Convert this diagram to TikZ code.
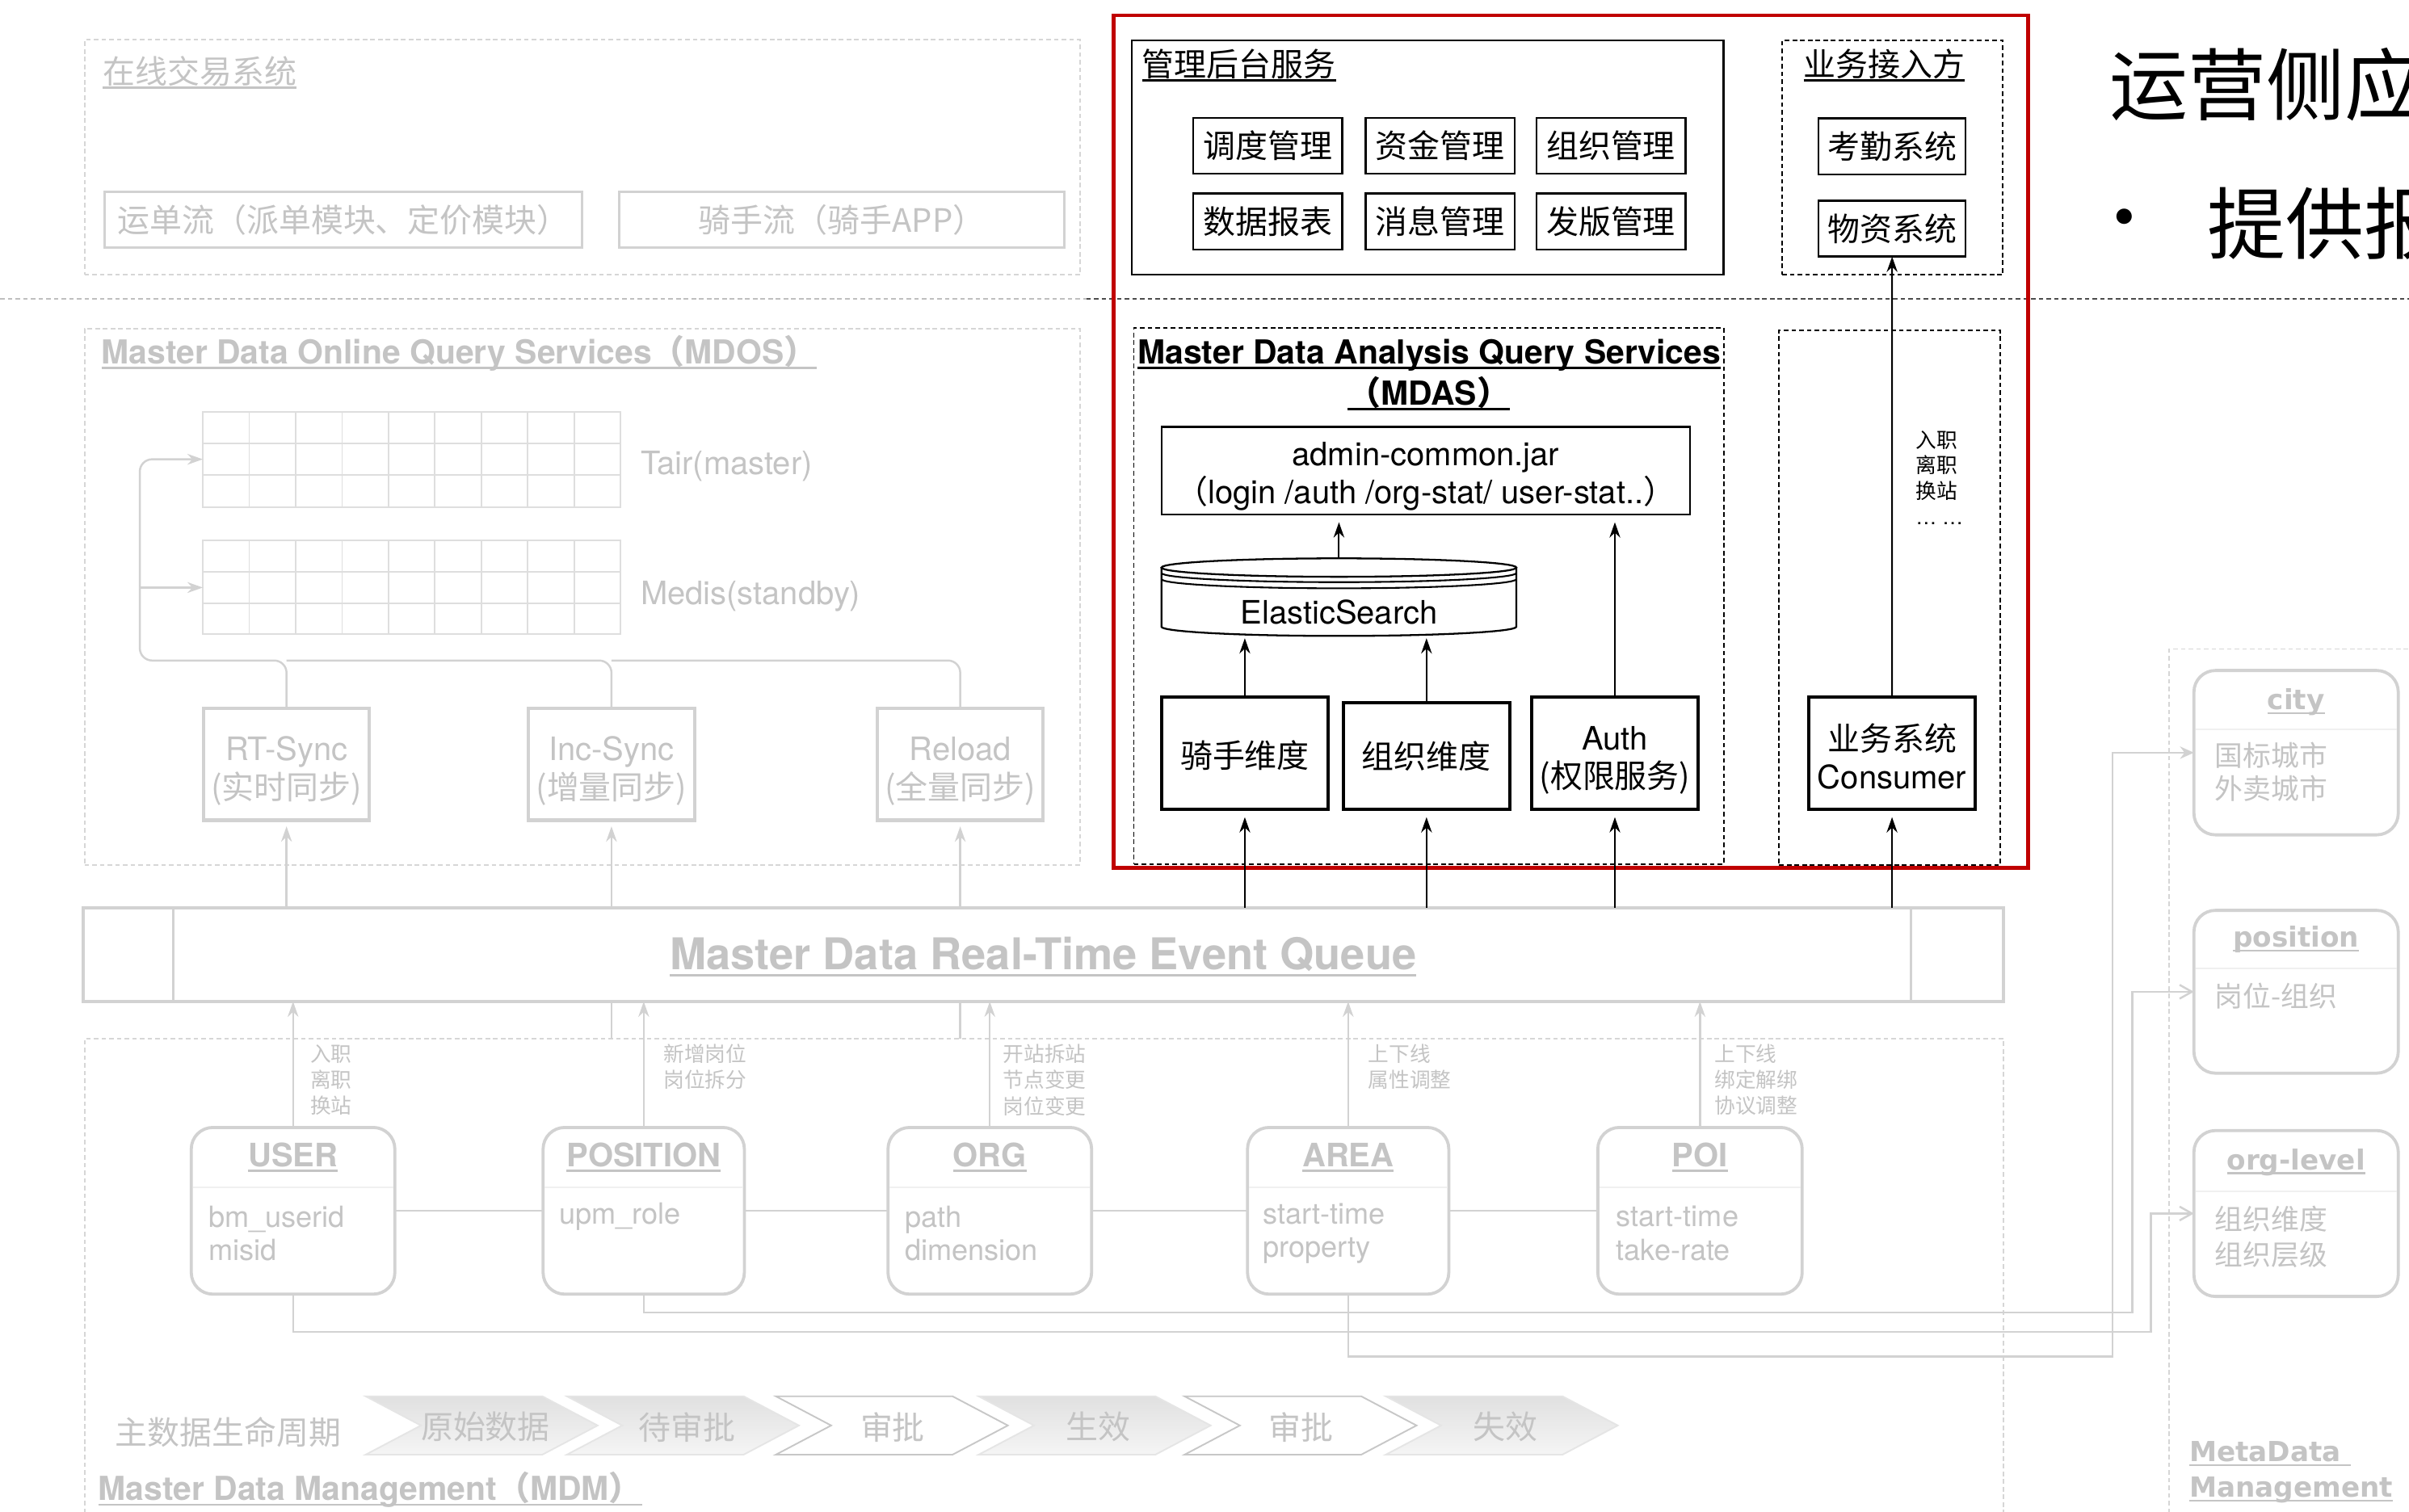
\documentclass[tikz,border=0pt]{standalone}
\usepackage{fontspec}
\setmainfont{TeX Gyre Heros}
\newfontfamily\cjk{Noto Sans CJK SC}
\newfontfamily\dvs{DejaVu Sans}
\usetikzlibrary{arrows.meta,calc}
\definecolor{fl}{HTML}{D2D2D2}
\definecolor{fd}{HTML}{D6D6D6}
\definecolor{ft}{HTML}{C4C4C4}
\definecolor{fgrid}{HTML}{DEDEDE}
\definecolor{redbox}{HTML}{C00000}
\newbox\ulb
\newcommand\ulx[1]{\setbox\ulb\hbox{#1}\rlap{\rule[-0.16em]{\wd\ulb}{0.065em}}\box\ulb}
\newcommand\fsz[2]{\fontsize{#1}{#2}\selectfont}
\begin{document}
\begin{tikzpicture}[x=1pt,y=-1pt,
  every node/.style={inner sep=0pt,outer sep=0pt},
  fbox/.style={draw=fl,line width=1.6pt},
  fdash/.style={draw=fd,line width=1pt,dash pattern=on 3pt off 2pt},
  bdash/.style={draw=black,line width=1pt,dash pattern=on 3pt off 2pt},
  fline/.style={draw=fl,line width=1.3pt},
  farrow/.style={draw=fl,line width=1.3pt,-{Stealth[length=10pt,width=7pt]}},
  barrow/.style={draw=black,line width=1pt,-{Stealth[length=10pt,width=7pt]}},
  syncbox/.style={draw=fl,line width=2.2pt,minimum width=108,minimum height=73},
  synctext/.style={align=center,text=ft,font=\fsz{21}{25.4}},
  entity/.style={draw=fl,line width=2pt,rounded corners=14pt,minimum height=108.5},
  meta/.style={draw=fl,line width=2pt,rounded corners=14pt,minimum width=133},
  btn/.style={draw=black,line width=1.3pt,minimum width=97,minimum height=36.5,font=\cjk\fsz{21}{25}},
  thickbox/.style={draw=black,line width=2.2pt,minimum width=108.5,minimum height=73.3},
  boxtext/.style={align=center,font=\fsz{21}{25}},
  smalllbl/.style={anchor=west,text=ft,align=left,font=\cjk\fsz{13.5}{17}}
]
\useasboundingbox (0,0) rectangle (1568,984);
\fill[white] (0,0) rectangle (1568,984);

% ---------- online trade system ----------
\node[fdash,minimum width=648,minimum height=153] (trade) at (379,102.5) {};
\node[anchor=west,text=ft] (tradeT) at (67,47) {\cjk\fsz{21}{25}\ulx{在线交易系统}};
\node[fbox,minimum width=311,minimum height=36,text=ft] (yd) at (223.5,143) {\cjk\fsz{21}{25}运单流（派单模块、定价模块）};
\node[fbox,minimum width=290,minimum height=36,text=ft] (qs) at (548,143) {\cjk\fsz{21}{25}骑手流（骑手APP）};

% ---------- separator ----------
\draw[draw=black!25,line width=1pt,dash pattern=on 3pt off 2pt] (0,194.5) -- (707,194.5);
\draw[draw=black!70,line width=1pt,dash pattern=on 3pt off 2pt] (707,194.5) -- (1568,194.5);

% ---------- MDOS ----------
\node[fdash,minimum width=648,minimum height=349] (mdos) at (379,388.5) {};
\node[anchor=west,text=ft] (mdosT) at (66,230) {\fsz{21.5}{25}\bfseries\ulx{Master Data Online Query Services{\cjk （}MDOS{\cjk ）}}};
\node[draw=fgrid,line width=1pt,minimum width=272,minimum height=62] (tair) at (268,299) {};
\foreach \i in {1,...,8} \draw[fgrid,line width=1pt] (132+\i*30.22,268) -- (132+\i*30.22,330);
\foreach \j in {1,2} \draw[fgrid,line width=1pt] (132,268+\j*20.67) -- (404,268+\j*20.67);
\node[draw=fgrid,line width=1pt,minimum width=272,minimum height=61] (medis) at (268,382.5) {};
\foreach \i in {1,...,8} \draw[fgrid,line width=1pt] (132+\i*30.22,352) -- (132+\i*30.22,413);
\foreach \j in {1,2} \draw[fgrid,line width=1pt] (132,352+\j*20.33) -- (404,352+\j*20.33);
\node[anchor=west,text=ft] (tairL) at (417,303.5) {\fsz{21}{25}Tair(master)};
\node[anchor=west,text=ft] (medisL) at (417,388) {\fsz{21}{25}Medis(standby)};

\node[syncbox] (rt) at (186.5,497.5) {};
\node[syncbox] (inc) at (398,497.5) {};
\node[syncbox] (rl) at (625,497.5) {};
\node[synctext] (rtT) at (186.5,502) {RT-Sync\\{\cjk (实时同步)}};
\node[synctext] (incT) at (398,502) {Inc-Sync\\{\cjk (增量同步)}};
\node[synctext] (rlT) at (625,502) {Reload\\{\cjk (全量同步)}};

\coordinate (hl) at (91,430);
\coordinate (mb) at (91,382.5);
\draw[farrow,rounded corners=8pt] (rt.north) |- (hl) |- (tair.west);
\draw[farrow] (mb) -- (medis.west);
\draw[fline,rounded corners=8pt] (inc.north) |- (rt.north |- hl);
\draw[fline,rounded corners=8pt] (rl.north) |- (inc.north |- hl);

% ---------- queue ----------
\node[draw=fl,line width=2pt,minimum width=1250,minimum height=61] (queue) at (679,621.5) {};
\draw[fl,line width=1.5pt] ($(queue.north west)+(59,0)$) -- ($(queue.south west)+(59,0)$);
\draw[fl,line width=1.5pt] ($(queue.north east)+(-60,0)$) -- ($(queue.south east)+(-60,0)$);
\node[text=ft] (queueT) at (679,623) {\fsz{28.5}{32}\bfseries\ulx{Master Data Real-Time Event Queue}};

\draw[farrow,shorten >=4pt] (rt.south |- queue.north) -- (rt.south);
\draw[farrow,shorten >=4pt] (inc.south |- queue.north) -- (inc.south);
\draw[farrow,shorten >=4pt] (rl.south |- queue.north) -- (rl.south);

% ---------- MDM ----------
\draw[fdash] (55,1000) -- (55,676) -- (1304,676) -- (1304,1000);
\node[anchor=west,text=ft] (mdmT) at (64,970) {\fsz{21.5}{25}\bfseries\ulx{Master Data Management{\cjk （}MDM{\cjk ）}}};
\draw[fline] (inc.south |- queue.south) -- ++(0,24);
\draw[fline] (rl.south |- queue.south) -- ++(0,24);

\node[entity,minimum width=132.5] (user) at (190.75,788.25) {};
\node[entity,minimum width=131] (pos) at (419,788.25) {};
\node[entity,minimum width=132.5] (org) at (644.25,788.25) {};
\node[entity,minimum width=131] (area) at (877.5,788.25) {};
\node[entity,minimum width=133] (poi) at (1106.5,788.25) {};
\foreach \n in {user,pos,org,area,poi}
  \draw[draw=black!6,line width=1pt] ($(\n.north west)+(1,39)$) -- ($(\n.north east)+(-1,39)$);
\node[text=ft] (userT) at (190.75,753.5) {\fsz{21}{25}\bfseries\ulx{USER}};
\node[text=ft] (posT) at (419,753.5) {\fsz{21}{25}\bfseries\ulx{POSITION}};
\node[text=ft] (orgT) at (644.25,753.5) {\fsz{21}{25}\bfseries\ulx{ORG}};
\node[text=ft] (areaT) at (877.5,753.5) {\fsz{21}{25}\bfseries\ulx{AREA}};
\node[text=ft] (poiT) at (1106.5,753.5) {\fsz{21}{25}\bfseries\ulx{POI}};
\node[anchor=west,text=ft,align=left,font=\fsz{19}{22}] (userA) at (135.7,803) {bm\_userid\\misid};
\node[anchor=west,text=ft,font=\fsz{19}{22}] (posA) at (364,792) {upm\_role};
\node[anchor=west,text=ft,align=left,font=\fsz{19}{22}] (orgA) at (589,803) {path\\dimension};
\node[anchor=west,text=ft,align=left,font=\fsz{19}{22}] (areaA) at (822,803) {start-time\\property};
\node[anchor=west,text=ft,align=left,font=\fsz{19}{22}] (poiA) at (1052,803) {start-time\\take-rate};

\draw[fline] (user.east) -- (pos.west);
\draw[fline] (pos.east) -- (org.west);
\draw[fline] (org.east) -- (area.west);
\draw[fline] (area.east) -- (poi.west);

\draw[farrow] (user.north) -- (user.north |- queue.south);
\draw[farrow] (pos.north) -- (pos.north |- queue.south);
\draw[farrow] (org.north) -- (org.north |- queue.south);
\draw[farrow] (area.north) -- (area.north |- queue.south);
\draw[farrow] (poi.north) -- (poi.north |- queue.south);

\node[smalllbl] (userL) at (202,703) {入职\\离职\\换站};
\node[smalllbl] (posL) at (432,694.5) {新增岗位\\岗位拆分};
\node[smalllbl] (orgL) at (653,703) {开站拆站\\节点变更\\岗位变更};
\node[smalllbl] (areaL) at (890.6,694.5) {上下线\\属性调整};
\node[smalllbl] (poiL) at (1116,703) {上下线\\绑定解绑\\协议调整};

% lifecycle chevrons
\node[anchor=west,text=ft] (lifeT) at (75,932.5) {\cjk\fsz{21}{25}主数据生命周期};
\foreach \x/\t in {238/原始数据,369/待审批,637/生效,902/失效}{
  \shadedraw[top color=black!12,bottom color=black!4,draw=black!10,line width=1pt]
    (\x,909) -- (\x+115,909) -- (\x+151,928) -- (\x+115,947) -- (\x,947) -- (\x+36,928) -- cycle;
  \node[text=ft] (chev\x) at (\x+78,929) {\cjk\fsz{21}{25}\t};
}
\foreach \x/\t in {505/审批,771/审批}{
  \draw[draw=black!22,line width=1pt,fill=white]
    (\x,909) -- (\x+115,909) -- (\x+151,928) -- (\x+115,947) -- (\x,947) -- (\x+36,928) -- cycle;
  \node[text=ft] (chev\x) at (\x+76,929) {\cjk\fsz{21}{25}\t};
}

% ---------- MetaData management ----------
\draw[fdash] (1412,1000) -- (1412,422.5) -- (1600,422.5);
\node[meta,minimum height=107] (city) at (1494.5,490) {};
\node[meta,minimum height=106] (posm) at (1494.5,645.65) {};
\node[meta,minimum height=108] (orgl) at (1494.5,790) {};
\draw[draw=black!6,line width=1pt] ($(city.north west)+(1,38.5)$) -- ($(city.north east)+(-1,38.5)$);
\draw[draw=black!6,line width=1pt] ($(posm.north west)+(1,38)$) -- ($(posm.north east)+(-1,38)$);
\draw[draw=black!6,line width=1pt] ($(orgl.north west)+(1,39.6)$) -- ($(orgl.north east)+(-1,39.6)$);
\node[text=ft] (cityT) at (1494.5,457) {\dvs\bfseries\fsz{18}{22}\ulx{city}};
\node[text=ft] (posmT) at (1494.5,611.5) {\dvs\bfseries\fsz{18}{22}\ulx{position}};
\node[text=ft] (orglT) at (1494.5,756.5) {\dvs\bfseries\fsz{18}{22}\ulx{org-level}};
\node[anchor=west,text=ft,align=left,font=\cjk\fsz{18.3}{22}] (cityA) at (1441.6,502.5) {国标城市\\外卖城市};
\node[anchor=west,text=ft,font=\cjk\fsz{18.3}{22}] (posmA) at (1441.6,648.4) {岗位-组织};
\node[anchor=west,text=ft,align=left,font=\cjk\fsz{18.3}{23.5}] (orglA) at (1441.6,805.25) {组织维度\\组织层级};
\node[anchor=west,text=ft,align=left,font=\dvs\bfseries\fsz{18}{23}] (metaT) at (1425,958.5) {\ulx{MetaData }\\\ulx{Management}};

\coordinate (k1) at (1375,883);
\coordinate (k2) at (1388,854.5);
\coordinate (k3) at (1400,867);
\draw[fline,-{Stealth[length=9pt,width=8pt]}] (area.south) |- (k1) |- (city.west);
\draw[fline,-{Straight Barb[length=8pt,width=9pt]}] (pos.south) |- (k2) |- (posm.west);
\draw[fline,-{Straight Barb[length=8pt,width=9pt]}] (user.south) |- (k3) |- (orgl.west);

% ---------- highlighted (red) region ----------
\node[draw=redbox,line width=2.6pt,minimum width=595,minimum height=555] (redframe) at (1022.5,287.5) {};
\node[draw=black,line width=1.3pt,minimum width=385,minimum height=152.5] (mgmt) at (929.25,102.55) {};
\node[anchor=west] (mgmtT) at (743.5,42.5) {\cjk\fsz{21}{25}\ulx{管理后台服务}};
\node[btn] (b1) at (825.15,94.9) {调度管理};
\node[btn] (b2) at (937.4,94.9) {资金管理};
\node[btn] (b3) at (1048.5,94.9) {组织管理};
\node[btn] (b4) at (825.15,144.2) {数据报表};
\node[btn] (b5) at (937.4,144.2) {消息管理};
\node[btn] (b6) at (1048.5,144.2) {发版管理};

\node[bdash,minimum width=143.5,minimum height=152.7] (biz) at (1231.75,102.65) {};
\node (bizT) at (1226.5,42.5) {\cjk\fsz{21}{25}\ulx{业务接入方}};
\node[btn,minimum width=95.7] (kq) at (1231.55,95.2) {考勤系统};
\node[btn,minimum width=95.7] (wz) at (1231.55,148.8) {物资系统};

\node[bdash,minimum width=384,minimum height=349] (mdas) at (930,388.05) {};
\node (mdasT) at (930.3,231) {\fsz{21.5}{25}\bfseries\ulx{Master Data Analysis Query Services}};
\node (mdasT2) at (930,256) {\fsz{21.5}{25}\bfseries\ulx{{\cjk （}MDAS{\cjk ）}}};
\node[bdash,minimum width=144,minimum height=348] (bizb) at (1230,389) {};

\node[draw=black,line width=1.3pt,minimum width=344,minimum height=57] (admin) at (928,306.5) {};
\node[boxtext,font=\fsz{21}{24.5}] (adminT) at (928,310) {admin-common.jar\\{\cjk （}login /auth /org-stat/ user-stat..{\cjk ）}};

% ElasticSearch cylinder
\draw[line width=1.2pt,fill=white] (756,369.5) -- (756,408) arc[start angle=180,end angle=0,x radius=115.5,y radius=6] -- (987,369.5);
\draw[line width=1.2pt] (871.5,369.5) ellipse[x radius=115.5,y radius=6];
\draw[line width=1.1pt] (756,373) arc[start angle=180,end angle=0,x radius=115.5,y radius=6];
\draw[line width=1.1pt] (756,377) arc[start angle=180,end angle=0,x radius=115.5,y radius=6];
\node[minimum width=231,minimum height=50.5] (es) at (871.5,388.75) {};
\node (esT) at (871.5,398.5) {\fsz{21}{25}ElasticSearch};

\node[thickbox] (qd) at (810.25,490.35) {};
\node[thickbox,minimum height=69.4] (zd) at (928.5,492.3) {};
\node[thickbox] (auth) at (1051.1,490.35) {};
\node[thickbox] (cons) at (1231.5,490.35) {};
\node[boxtext] (qdT) at (810.25,492) {\cjk 骑手维度};
\node[boxtext] (zdT) at (928.5,492.5) {\cjk 组织维度};
\node[boxtext] (authT) at (1051.1,495) {Auth\\{\cjk (权限服务)}};
\node[boxtext] (consT) at (1231.5,492.5) {{\cjk 业务系统}\\Consumer};

\draw[barrow,shorten >=1.5pt] (qd.north) -- (qd.north |- es.south);
\draw[barrow,shorten >=1.5pt] (zd.north) -- (zd.north |- es.south);
\draw[barrow,shorten >=5pt] (es.north) -- (es.north |- admin.south);
\draw[barrow,shorten >=5pt] (auth.north) -- (auth.north |- admin.south);
\draw[barrow,shorten >=5pt] (qd.south |- queue.north) -- (qd.south);
\draw[barrow,shorten >=5pt] (zd.south |- queue.north) -- (zd.south);
\draw[barrow,shorten >=5pt] (auth.south |- queue.north) -- (auth.south);
\draw[barrow,shorten >=5pt] (cons.south |- queue.north) -- (cons.south);
\draw[barrow] (cons.north) -- (wz.south);
\node[anchor=west,align=left,font=\cjk\fsz{13.5}{16.8}] (consL) at (1247,311) {入职\\离职\\换站\\{\rmfamily … …}};

% ---------- right-hand slide text ----------
\node[anchor=west] (bigT) at (1373,54.8) {\cjk\fsz{51}{60}运营侧应};
\node (bul) at (1383,145.5) {\fsz{40}{48}•};
\node[anchor=west] (bigT2) at (1437,145.5) {\cjk\fsz{51}{60}提供报};
\end{tikzpicture}
\end{document}
